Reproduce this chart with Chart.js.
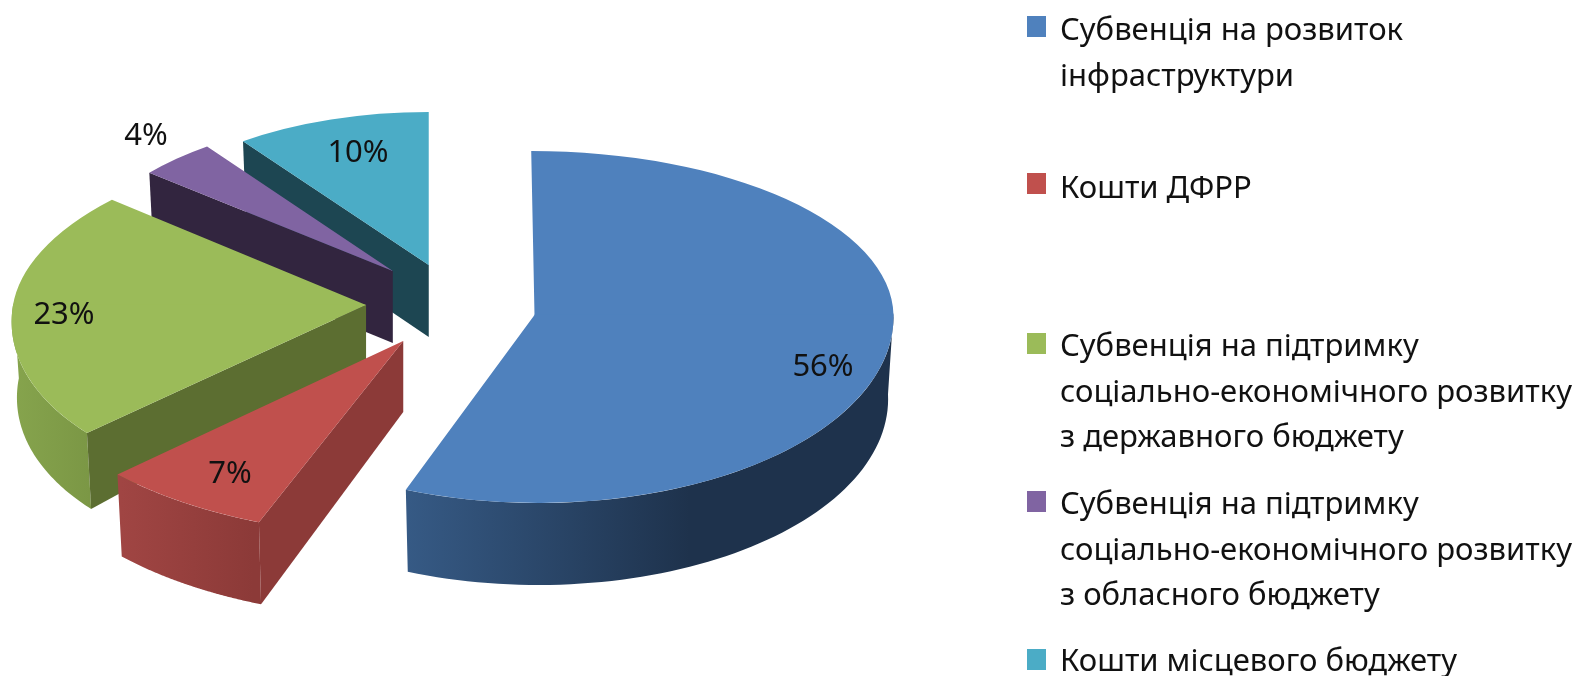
<!DOCTYPE html>
<html>
<head>
<meta charset="utf-8">
<script src="https://cdn.jsdelivr.net/npm/chart.js@4/dist/chart.umd.min.js"></script>
<style>
  html, body { margin: 0; padding: 0; background: #fff; }
  #wrap { position: relative; width: 1581px; height: 676px; overflow: hidden; filter: blur(0.6px); }
  #pie { position: absolute; left: 0; top: 0; }
  .swatch { position: absolute; left: 1027px; width: 19px; height: 21px; }
  .entry { position: absolute; left: 1060px; font-family: "Noto Sans", sans-serif; font-size: 31px; line-height: 45.5px; color: #111; white-space: nowrap; }
</style>
</head>
<body>
<div id="wrap">
  <canvas id="pie" width="1581" height="676"></canvas>
  <div id="legend"></div>
</div>
<script>
// Data
const categories = [
  ["Субвенція на розвиток", "інфраструктури"],
  ["Кошти ДФРР"],
  ["Субвенція на підтримку", "соціально-економічного розвитку", "з державного бюджету"],
  ["Субвенція на підтримку", "соціально-економічного розвитку", "з обласного бюджету"],
  ["Кошти місцевого бюджету"]
];
const shares = [56, 7, 23, 4, 10];

// Colours
const topColors = ["#4f81bd", "#c0504d", "#9bbb59", "#8064a2", "#4bacc6"];
const cutColors = ["#1f3550", "#8c3a38", "#5c6e31", "#32253f", "#1d4652"];
const wallFrom = ["#365a85", "#a04543", "#86a44d", "#32253f", "#1d4652"];
const wallTo = ["#1e324c", "#8c3a38", "#7b9745", "#32253f", "#1d4652"];
const wallFromX = [406, 121, 13, 148, 243];
const wallToX = [690, 253, 90, 393, 427];

// Tilt and explosion of each slice, in screen pixels
const baseRadius = 355;
const explode = 85;
const baseSquash = 0.46;
const nudgeX = [0, 0, 0, 0, 4];
const lift = [0, 1, -4, -8, -6];
const radiusX = [359, 392, 353, 316, 316];
const radiusUp = [164, 190, 165, 154, 153];
const radiusDown = [188, 195, 187, 151, 147];
const shear = [0.02, 0, -0.17, 0, 0];
const wallDepth = [82, 82, 76, 72, 72];
const tipDepth = [82, 71, 54, 72, 72];
const wallNarrow = 0.985; // bottom rim is a bit smaller, perspective

// Layout
const labelX = [823, 230, 64, 146, 358];
const labelY = [367, 474, 315, 136, 153];
const legendTop = [6, 164, 322, 480, 637];
const swatchTop = [16, 173, 333, 491, 649];

function sliceTip(el, i) {
  const mid = (el.startAngle + el.endAngle) / 2;
  return {
    x: el.x + Math.cos(mid) * explode + nudgeX[i],
    y: Math.round(el.y + Math.sin(mid) * explode * baseSquash + lift[i])
  };
}

// screen point of the rim of slice i at canvas angle a
function rimPoint(tip, i, a) {
  const s = Math.sin(a);
  const dy = s * (s < 0 ? radiusUp[i] : radiusDown[i]);
  return { x: tip.x + Math.cos(a) * radiusX[i] + shear[i] * dy, y: tip.y + dy };
}

function drawWall(ctx, el, tip, i) {
  const depth = wallDepth[i];
  const lowerX = x => tip.x + (x - tip.x) * wallNarrow;
  const grad = ctx.createLinearGradient(wallFromX[i], 0, wallToX[i], 0);
  grad.addColorStop(0, wallFrom[i]);
  grad.addColorStop(1, wallTo[i]);
  const steps = 120;
  const rim = [];
  for (let s = 0; s <= steps; s++) {
    const a = el.startAngle + (el.endAngle - el.startAngle) * s / steps;
    // the back half of the rim can't be seen
    if (Math.sin(a) > -0.02) rim.push(rimPoint(tip, i, a));
  }
  if (rim.length > 1) {
    ctx.fillStyle = grad;
    ctx.beginPath();
    rim.forEach((p, n) => n ? ctx.lineTo(p.x, p.y) : ctx.moveTo(p.x, p.y));
    rim.slice().reverse().forEach(p => ctx.lineTo(lowerX(p.x), p.y + depth));
    ctx.closePath();
    ctx.fill();
  }

  // flat cut faces that look towards the viewer
  ctx.fillStyle = cutColors[i];
  [[el.startAngle, Math.cos(el.startAngle) < -0.001], [el.endAngle, Math.cos(el.endAngle) > 0.001]].forEach(([a, seen]) => {
    if (!seen) return;
    const e = rimPoint(tip, i, a);
    ctx.beginPath();
    ctx.moveTo(tip.x, tip.y);
    ctx.lineTo(e.x, e.y);
    ctx.lineTo(lowerX(e.x), e.y + depth);
    ctx.lineTo(tip.x, tip.y + tipDepth[i]);
    ctx.closePath();
    ctx.fill();
  });
}

// top face: the library arc, squashed differently above and below its tip
function drawTop(ctx, el, tip, i) {
  [[radiusUp[i], 0, tip.y + 0.5], [radiusDown[i], tip.y - 0.5, 676]].forEach(([ry, y0, y1]) => {
    ctx.save();
    ctx.beginPath();
    ctx.rect(0, y0, 1581, y1 - y0);
    ctx.clip();
    ctx.translate(tip.x, tip.y);
    ctx.transform(1, 0, shear[i], 1, 0, 0);
    ctx.scale(radiusX[i] / baseRadius, ry / baseRadius);
    ctx.translate(-el.x, -el.y);
    el.draw(ctx);
    ctx.restore();
  });
}

const tiltPlugin = {
  id: "tilt",
  beforeDatasetDraw(chart) {
    const ctx = chart.ctx;
    const arcs = chart.getDatasetMeta(0).data;
    const order = [4, 3, 2, 1, 0];
    order.forEach(i => drawWall(ctx, arcs[i], sliceTip(arcs[i], i), i));
    order.forEach(i => drawTop(ctx, arcs[i], sliceTip(arcs[i], i), i));
    ctx.save();
    ctx.fillStyle = "#111";
    ctx.font = '31px "Noto Sans", sans-serif';
    ctx.textAlign = "center";
    ctx.textBaseline = "middle";
    shares.forEach((v, i) => ctx.fillText(v + "%", labelX[i], labelY[i]));
    ctx.restore();
    return false;
  }
};

new Chart(document.getElementById("pie").getContext("2d"), {
  type: "pie",
  data: {
    labels: categories.map(c => c.join(" ")),
    datasets: [{
      data: shares,
      backgroundColor: topColors,
      borderWidth: 0
    }]
  },
  options: {
    responsive: false,
    animation: false,
    radius: baseRadius,
    layout: { padding: { right: 679, bottom: 60 } },
    plugins: { legend: { display: false }, tooltip: { enabled: false } }
  },
  plugins: [tiltPlugin]
});

// legend on the right
const legend = document.getElementById("legend");
categories.forEach((lines, i) => {
  const sw = document.createElement("div");
  sw.className = "swatch";
  sw.style.top = swatchTop[i] + "px";
  sw.style.background = topColors[i];
  legend.appendChild(sw);
  const entry = document.createElement("div");
  entry.className = "entry";
  entry.style.top = legendTop[i] + "px";
  entry.innerHTML = lines.join("<br>");
  legend.appendChild(entry);
});
</script>
</body>
</html>
